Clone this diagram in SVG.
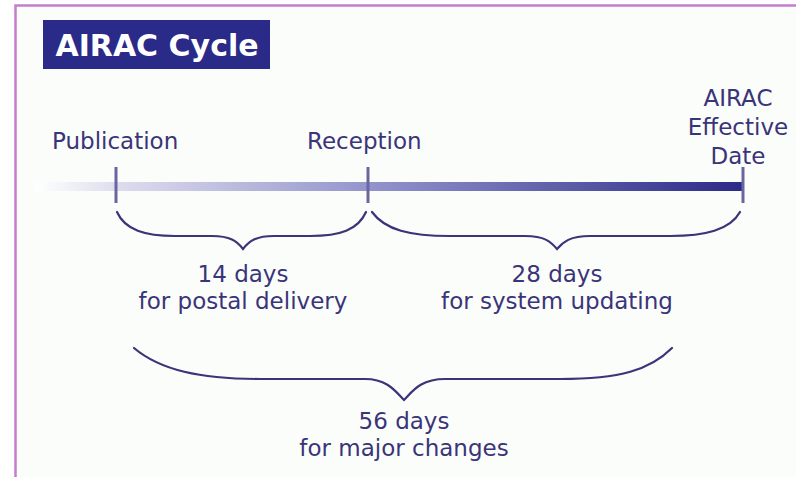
<svg xmlns="http://www.w3.org/2000/svg" width="796" height="477" viewBox="0 0 796 477">
<defs>
<linearGradient id="bar" x1="35" y1="0" x2="744" y2="0" gradientUnits="userSpaceOnUse">
<stop offset="0" stop-color="#ffffff"/>
<stop offset="0.12" stop-color="#dcdcee"/>
<stop offset="0.47" stop-color="#9494cc"/>
<stop offset="1" stop-color="#2a2a88"/>
</linearGradient>
</defs>
<style>
.t{font-family:"DejaVu Sans","Liberation Sans",sans-serif;font-size:23px;fill:#3a3478;}
.m{text-anchor:middle;}
.tick{stroke:#6a64a0;stroke-width:3;}
.br{fill:none;stroke:#3a3478;stroke-width:2.2;stroke-linecap:round;}
</style>
<rect x="0" y="0" width="796" height="477" fill="#ffffff"/>
<rect x="16" y="6" width="780" height="471" fill="#fbfdfb"/>
<path d="M15.5,477 L15.5,5.5 L796,5.5" fill="none" stroke="#c47fcc" stroke-width="2.5"/>
<g id="title">
<rect x="43" y="20" width="227" height="49" fill="#2a2a88"/>
<text x="157" y="56" text-anchor="middle" font-family="DejaVu Sans, sans-serif" font-weight="bold" font-size="30" fill="#ffffff">AIRAC Cycle</text>
</g>
<g id="timeline">
<rect x="35" y="182" width="709" height="9" fill="url(#bar)"/>
<line class="tick" x1="116" y1="167" x2="116" y2="203"/>
<line class="tick" x1="368" y1="167" x2="368" y2="203"/>
<line class="tick" x1="743" y1="167" x2="743" y2="203"/>
</g>
<g id="publication"><text class="t" x="52" y="149">Publication</text></g>
<g id="reception"><text class="t" x="307" y="149">Reception</text></g>
<g id="effective">
<text class="t m" x="738" y="106">AIRAC</text>
<text class="t m" x="738" y="135">Effective</text>
<text class="t m" x="738" y="164">Date</text>
</g>
<g id="connectors">
<path class="br" d="M117,212 C125,230 145,236 175,236 L212,236 C230,236 237,241 243,249 C249,241 256,236 274,236 L310,236 C340,236 358,230 366,212"/>
<path class="br" d="M372,212 C385,230 410,236 450,236 L525,236 C545,236 551,242 557,249 C563,242 570,236 590,236 L670,236 C705,236 730,230 740,212"/>
<path class="br" d="M134,348 C160,370 200,379 260,379 L365,379 C388,379 396,392 404,400 C412,392 420,379 445,379 L560,379 C620,379 650,370 672,348"/>
</g>
<g id="postal">
<text class="t m" x="243" y="282">14 days</text>
<text class="t m" x="243" y="309">for postal delivery</text>
</g>
<g id="updating">
<text class="t m" x="557" y="282">28 days</text>
<text class="t m" x="557" y="309">for system updating</text>
</g>
<g id="major">
<text class="t m" x="404" y="429">56 days</text>
<text class="t m" x="404" y="456">for major changes</text>
</g>
</svg>
